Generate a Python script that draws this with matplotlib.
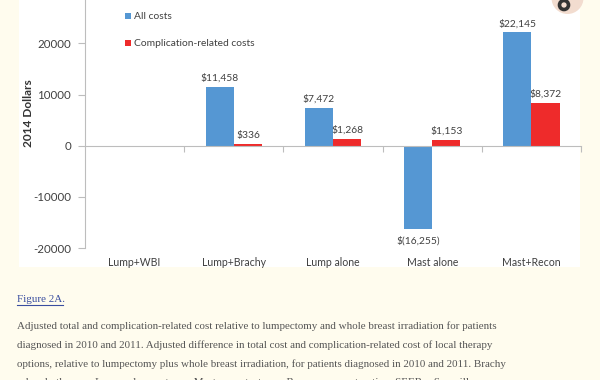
import matplotlib
matplotlib.use("Agg")
import matplotlib.pyplot as plt
from matplotlib.patches import Patch, Rectangle, Circle
import numpy as np

# data
categories = ["Lump+WBI", "Lump+Brachy", "Lump alone", "Mast alone", "Mast+Recon"]
all_costs = [0, 11458, 7472, -16255, 22145]
complication_costs = [0, 336, 1268, 1153, 8372]
series_names = ["All costs", "Complication-related costs"]
y_ticks = [-20000, -10000, 0, 10000, 20000]

caption_title = "Figure 2A."
caption_lines = [
    "Adjusted total and complication-related cost relative to lumpectomy and whole breast irradiation for patients",
    "diagnosed in 2010 and 2011. Adjusted difference in total cost and complication-related cost of local therapy",
    "options, relative to lumpectomy plus whole breast irradiation, for patients diagnosed in 2010 and 2011. Brachy",
    "= brachytherapy; Lump = lumpectomy; Mast = mastectomy; Recon = reconstruction; SEER = Surveillance",
]

blue = "#5597d3"
red = "#ee2b2b"
page_bg = "#fffcee"
axis_gray = "#bdbdbd"
text_gray = "#404040"
chart_font = "Lato"

W, H = 600, 380
fig = plt.figure(figsize=(W / 100, H / 100), dpi=100, facecolor=page_bg)

# white chart panel
fig.add_artist(Rectangle((19 / W, 1 - 267 / H), 561 / W, 267 / H,
                         transform=fig.transFigure, facecolor="white",
                         edgecolor="none", zorder=0))

ax = fig.add_axes([85 / W, 1 - 248 / H, (581 - 85) / W, 248 / H])
ax.set_facecolor("none")

x = np.arange(len(categories))
w = 0.285
b1 = ax.bar(x - w / 2, all_costs, w, color=blue, label=series_names[0], zorder=2)
b2 = ax.bar(x + w / 2, complication_costs, w, color=red, label=series_names[1], zorder=2)


def fmt(v):
    if v < 0:
        return f"$({abs(v):,})"
    return f"${v:,}"


for bars, vals in [(b1, all_costs), (b2, complication_costs)]:
    for rect, v in zip(bars, vals):
        if v == 0:
            continue
        cx = rect.get_x() + rect.get_width() / 2
        if v > 0:
            ax.annotate(fmt(v), (cx, v), xytext=(0, 3), textcoords="offset points",
                        ha="center", va="bottom", fontsize=7.4, color=text_gray,
                        family=chart_font)
        else:
            ax.annotate(fmt(v), (cx, v), xytext=(0, -5), textcoords="offset points",
                        ha="center", va="top", fontsize=7.4, color=text_gray,
                        family=chart_font)

ax.set_xlim(-0.5, 4.5)
ax.set_ylim(-20000, 28500)
ax.set_yticks(y_ticks)
ax.set_yticklabels([str(t) for t in y_ticks], family=chart_font, fontsize=8.3, color=text_gray)
ax.tick_params(axis="y", length=5, color=axis_gray, pad=5)

ax.spines["top"].set_visible(False)
ax.spines["right"].set_visible(False)
ax.spines["left"].set_color(axis_gray)
ax.spines["bottom"].set_color(axis_gray)
ax.spines["bottom"].set_position(("data", 0))
ax.set_xticks(x + 0.5)
ax.set_xticklabels([])
ax.tick_params(axis="x", length=4, color=axis_gray, direction="out")

for xi, name in zip(x, categories):
    ax.text(xi, -0.06, name, transform=ax.get_xaxis_transform(), ha="center",
            va="center", fontsize=7.6, color=text_gray, family=chart_font)

fig.text(28 / W, 1 - 113 / H, "2014 Dollars", rotation=90, ha="center", va="center",
         fontsize=8.6, fontweight="bold", color="#333333", family=chart_font)

handles = [Patch(facecolor=blue), Patch(facecolor=red)]
leg = fig.legend(handles, series_names, loc="upper left", bbox_to_anchor=(116 / W, 1 - 3 / H),
                 frameon=False, handlelength=0.55, handleheight=0.55,
                 handletextpad=0.35, labelspacing=1.75, prop={"family": chart_font, "size": 7.4})
for t in leg.get_texts():
    t.set_color(text_gray)

# corner button overlay from the page
fig.add_artist(Circle((5.675, 3.82), 0.16, transform=fig.dpi_scale_trans,
                      facecolor="#f2dccf", edgecolor="none", zorder=5))
fig.add_artist(Circle((5.64, 3.75), 0.045, transform=fig.dpi_scale_trans,
                      facecolor="none", edgecolor="#333333", linewidth=2.6, zorder=6))

# caption below the chart
fig.text(17 / W, 1 - 299 / H, caption_title, ha="left", va="center", fontsize=7.9,
         color="#3a4ea0", family="Liberation Serif")
fig.add_artist(plt.Line2D([17 / W, 63 / W], [1 - 305 / H, 1 - 305 / H],
                          transform=fig.transFigure, color="#3a4ea0", linewidth=0.8))
for i, line in enumerate(caption_lines):
    fig.text(17 / W, 1 - (326 + 19 * i) / H, line, ha="left", va="center",
             fontsize=7.9, color="#555555", family="Liberation Serif")

fig.savefig("out.png", dpi=100, facecolor=page_bg)
